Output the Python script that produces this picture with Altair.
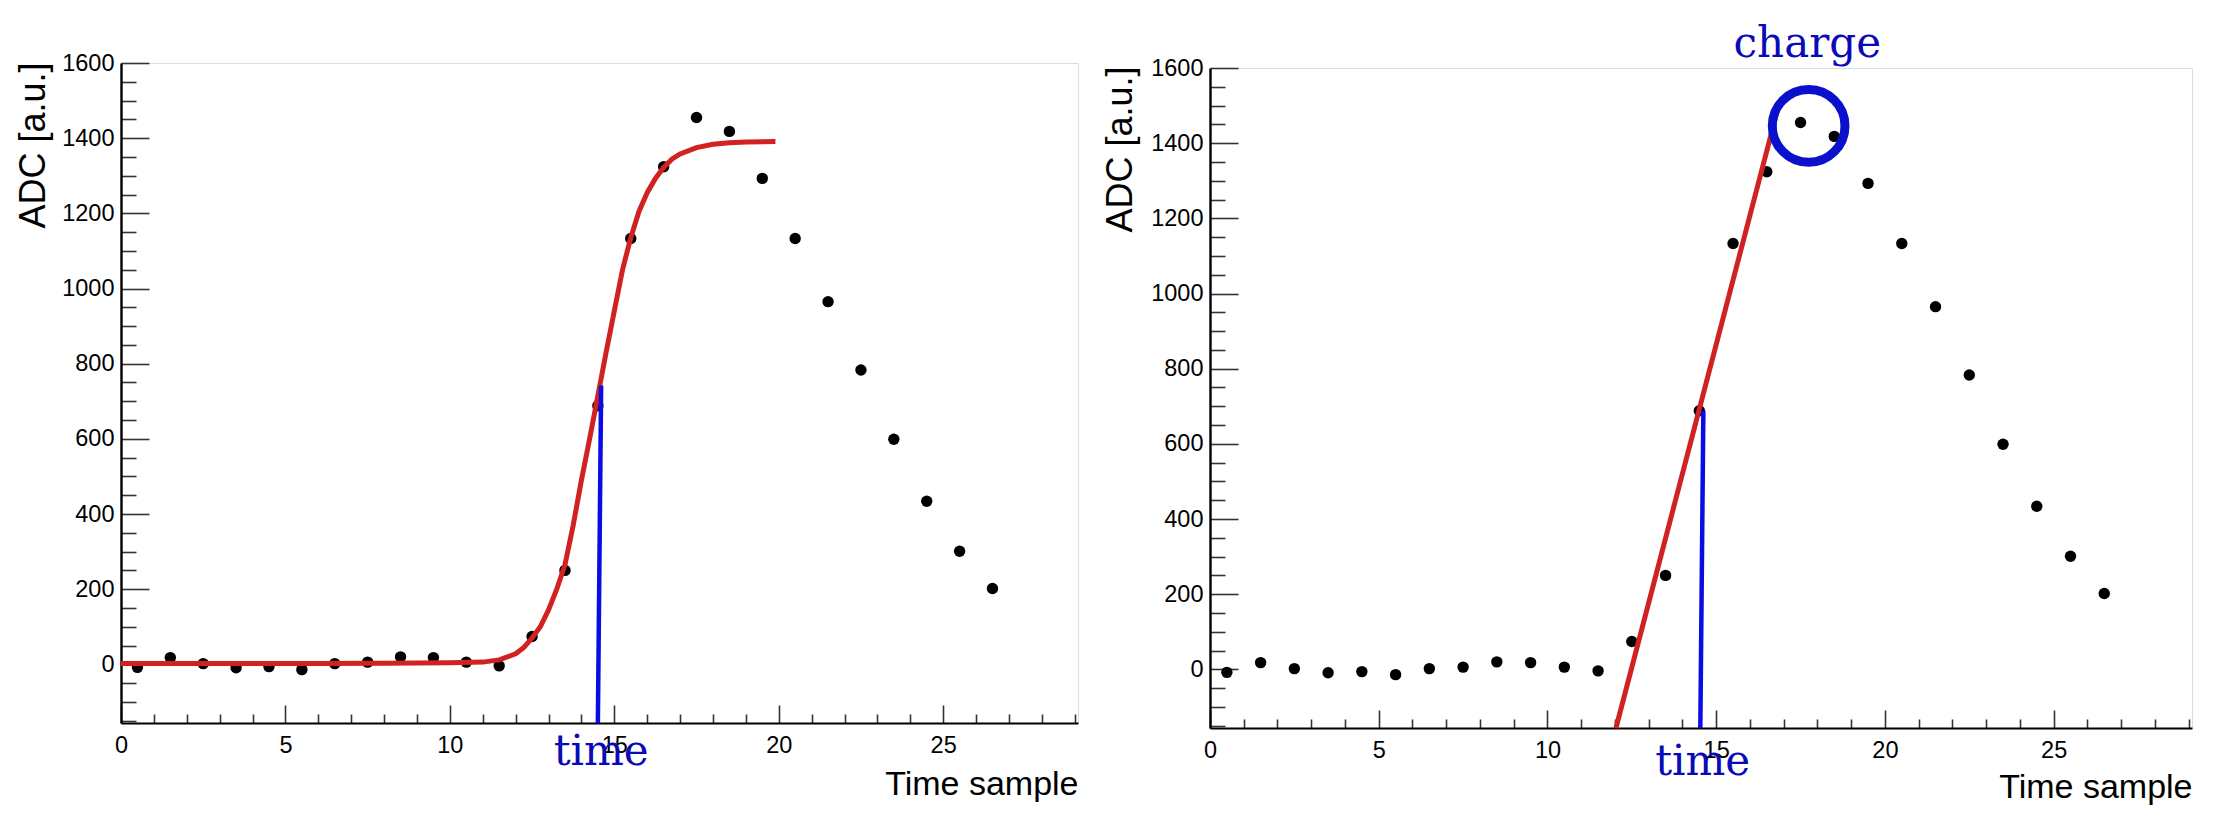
import altair as alt
import pandas as pd

# ADC samples of one digitised pulse, one value per time sample (bin centres)
time_sample = [0.5, 1.5, 2.5, 3.5, 4.5, 5.5, 6.5, 7.5, 8.5, 9.5, 10.5, 11.5, 12.5, 13.5,
               14.5, 15.5, 16.5, 17.5, 18.5, 19.5, 20.5, 21.5, 22.5, 23.5, 24.5, 25.5, 26.5]
adc_counts = [-8, 18, 2, -9, -6, -14, 2, 6, 20, 18, 6, -4, 74, 250,
              688, 1133, 1324, 1455, 1418, 1293, 1133, 965, 783, 599, 434, 301, 202]

# Fitted rising edge (left panel)
fit_t = [0, 2, 4, 6, 8, 10, 11, 11.5, 12, 12.25, 12.5, 12.75, 13, 13.25, 13.5, 13.75,
         14, 14.25, 14.5, 14.75, 15, 15.25, 15.5, 15.75, 16, 16.25, 16.5, 16.75, 17,
         17.5, 18, 18.5, 19, 19.9]
fit_adc = [2, 2, 2, 2, 3, 4, 6, 12, 28, 45, 70, 100, 145, 200, 265, 370,
           490, 600, 715, 830, 940, 1050, 1135, 1205, 1255, 1293, 1322, 1344, 1358,
           1375, 1384, 1388, 1390, 1391]

# Straight-line fit of the leading edge (right panel)
edge_t = [12.03, 16.88]
edge_adc = [-156, 1510]

# Time markers where the fit crosses the threshold
marker_left_t = [14.5, 14.6]
marker_left_adc = [-156, 742]
marker_right_t = [14.53, 14.62]
marker_right_adc = [-156, 688]

# Peak sample used as the charge
charge_t = [17.74]
charge_adc = [1446]

x_major = [0, 5, 10, 15, 20, 25]
x_minor = [1, 2, 3, 4, 6, 7, 8, 9, 11, 12, 13, 14, 16, 17, 18, 19, 21, 22, 23, 24, 26, 27, 28, 29]
y_major = [0, 200, 400, 600, 800, 1000, 1200, 1400, 1600]
y_minor = [-150, -100, -50, 50, 100, 150, 250, 300, 350, 450, 500, 550, 650, 700, 750,
           850, 900, 950, 1050, 1100, 1150, 1250, 1300, 1350, 1450, 1500, 1550]

X_DOMAIN = [0, 29.1]
Y_DOMAIN = [-156, 1600]
H = 660
SANS = "Liberation Sans"
SERIF = "DejaVu Serif"
RED = "#d02222"
BLUE = "#0b0be6"
ANNOT = "#0a0ab8"
TICK = "#333333"

samples = pd.DataFrame({"t": time_sample, "adc": adc_counts})


def scales():
    return (alt.Scale(domain=X_DOMAIN, nice=False, zero=False),
            alt.Scale(domain=Y_DOMAIN, nice=False, zero=False))


def panel(width, title_x, title_y, xtitle_y, overlays):
    xs, ys = scales()

    def tick_layer(xvals, xsize, yvals, ysize):
        return alt.Chart(samples).mark_point(opacity=0).encode(
            x=alt.X("t:Q", scale=xs, axis=alt.Axis(
                orient="top", offset=-H, values=xvals, labels=False, domain=False,
                grid=False, title=None, tickSize=xsize, tickColor=TICK, tickWidth=1.6)),
            y=alt.Y("adc:Q", scale=ys, axis=alt.Axis(
                orient="right", offset=-width, values=yvals, labels=False, domain=False,
                grid=False, title=None, tickSize=ysize, tickColor=TICK, tickWidth=1.6)),
        )

    points = alt.Chart(samples).mark_circle(size=130, color="black", opacity=1).encode(
        x=alt.X("t:Q", scale=xs, axis=alt.Axis(
            orient="bottom", values=x_major, format="d", ticks=False, grid=False,
            domainColor="black", domainWidth=2.2, labelFont=SANS, labelFontSize=23.5,
            labelColor="black", labelPadding=10, labelFlush=False, labelOverlap=False,
            title="Time sample", titleFont=SANS, titleFontSize=34, titleFontWeight="normal",
            titleColor="black", titleAlign="right", titleBaseline="alphabetic",
            titleX=width, titleY=xtitle_y)),
        y=alt.Y("adc:Q", scale=ys, axis=alt.Axis(
            orient="left", values=y_major, format="d", ticks=False, grid=False,
            domainColor="black", domainWidth=2.4, labelFont=SANS, labelFontSize=23.5,
            labelColor="black", labelPadding=7, labelFlush=False, labelOverlap=False,
            title="ADC [a.u.]", titleFont=SANS, titleFontSize=36, titleFontWeight="normal",
            titleColor="black", titleAngle=270, titleAlign="right",
            titleBaseline="alphabetic", titleX=title_x, titleY=title_y)),
    )

    layers = [tick_layer(x_major, 18, y_major, 28),
              tick_layer(x_minor, 9, y_minor, 15),
              points] + [o(xs, ys) for o in overlays]
    return alt.layer(*layers).resolve_axis(x="independent", y="independent").properties(
        width=width, height=H)


def line_overlay(ts, vals, color, width):
    def build(xs, ys):
        df = pd.DataFrame({"t": ts, "adc": vals})
        return alt.Chart(df).mark_line(color=color, strokeWidth=width, strokeCap="butt").encode(
            x=alt.X("t:Q", scale=xs, axis=None),
            y=alt.Y("adc:Q", scale=ys, axis=None),
            order="t:Q",
        )
    return build


def text_overlay(label, t, dy_px):
    def build(xs, ys):
        df = pd.DataFrame({"t": [t], "label": [label]})
        return alt.Chart(df).mark_text(
            font=SERIF, fontSize=42, color=ANNOT, baseline="alphabetic", align="center"
        ).encode(
            x=alt.X("t:Q", scale=xs, axis=None),
            y=alt.value(dy_px),
            text="label:N",
        )
    return build


def ring_overlay(xs, ys):
    df = pd.DataFrame({"t": charge_t, "adc": charge_adc})
    return alt.Chart(df).mark_point(
        shape="circle", filled=False, size=5280, strokeWidth=9, color="#0a10cc", opacity=1
    ).encode(
        x=alt.X("t:Q", scale=xs, axis=None),
        y=alt.Y("adc:Q", scale=ys, axis=None),
    )


left = panel(
    957, -76.6, -1, 71,
    [line_overlay(fit_t, fit_adc, RED, 5),
     line_overlay(marker_left_t, marker_left_adc, BLUE, 4.5),
     text_overlay("time", 14.6, H + 42)],
)

right = panel(
    982, -79, -2, 69,
    [line_overlay(edge_t, edge_adc, RED, 5),
     line_overlay(marker_right_t, marker_right_adc, BLUE, 4.5),
     text_overlay("time", 14.6, H + 47),
     text_overlay("charge", 17.7, -11),
     ring_overlay],
)

# thin empty strip that drops the second panel slightly below the first
spacer = alt.Chart(samples).mark_point(opacity=0).encode(
    x=alt.value(0), y=alt.value(0)
).properties(width=982, height=5, view=alt.ViewBackground(strokeOpacity=0))

right_column = alt.vconcat(spacer, right, spacing=0, bounds="flush")

chart = alt.hconcat(left, right_column, spacing=132, bounds="flush").properties(
    padding={"left": 14, "top": 22, "right": 5, "bottom": 5}
).configure_view(stroke="#333333", strokeWidth=2).configure(background="white")

chart.save("out.html", embed_options={"renderer": "svg", "actions": False})
